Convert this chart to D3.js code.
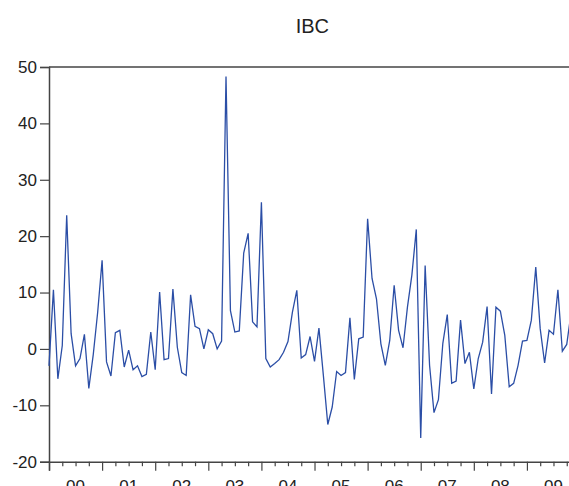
<!DOCTYPE html>
<html>
<head>
<meta charset="utf-8">
<script src="https://cdn.jsdelivr.net/npm/d3@7"></script>
<style>
  body { margin: 0; background: #fff; overflow: hidden; }
  svg { display: block; }
  text { font-family: "Liberation Sans", Arial, sans-serif; fill: #222; }
</style>
</head>
<body>
<div id="chart"></div>
<script>
// monthly series, Jan 2000 onwards
var ibc = [
  -3.0, 10.5, -5.3, 0.6, 23.7, 2.7, -3.0, -1.7, 2.6, -7.0, -1.0, 6.5,
  15.7, -2.3, -4.8, 2.9, 3.3, -3.2, -0.2, -3.7, -3.0, -4.9, -4.5, 3.0,
  -3.7, 10.1, -1.9, -1.7, 10.6, 0.3, -4.2, -4.7, 9.6, 4.0, 3.6, 0.0,
  3.4, 2.7, 0.0, 1.4, 48.3, 6.8, 3.0, 3.2, 17.0, 20.5, 4.8, 3.9,
  26.0, -1.7, -3.2, -2.6, -1.9, -0.6, 1.3, 6.5, 10.4, -1.6, -1.0, 2.2,
  -2.2, 3.7, -4.7, -13.4, -10.3, -4.0, -4.7, -4.2, 5.5, -5.4, 1.8, 2.1,
  23.1, 12.5, 8.9, 0.9, -2.9, 1.5, 11.3, 3.3, 0.2, 7.4, 13.1, 21.2,
  -15.8, 14.8, -2.9, -11.3, -9.0, 1.0, 6.1, -6.1, -5.7, 5.1, -2.6, -0.6,
  -7.1, -1.7, 1.2, 7.5, -8.0, 7.4, 6.7, 2.4, -6.7, -6.1, -2.9, 1.4,
  1.5, 5.1, 14.5, 3.6, -2.5, 3.3, 2.6, 10.5, -0.4, 0.8, 6.5
];
var yearLabels = ["00", "01", "02", "03", "04", "05", "06", "07", "08", "09"];
var yTicks = [-20, -10, 0, 10, 20, 30, 40, 50];

var svgWidth = 569;
var svgHeight = 486;

var margin = { top: 67, left: 49 };
var plotRight = 575.6;
var plotBottom = 461.7;

var svg = d3.select("#chart")
  .append("svg")
  .attr("width", svgWidth)
  .attr("height", svgHeight);

var x = d3.scaleLinear().domain([0, 119]).range([margin.left, plotRight]);
var y = d3.scaleLinear().domain([-20, 50]).range([plotBottom, margin.top]);

// title
svg.append("text")
  .attr("x", (margin.left + plotRight) / 2)
  .attr("y", 33)
  .attr("text-anchor", "middle")
  .style("font-size", "20px")
  .text("IBC");

// frame: top border
svg.append("line")
  .attr("x1", margin.left).attr("x2", plotRight)
  .attr("y1", margin.top).attr("y2", margin.top)
  .attr("stroke", "#444").attr("stroke-width", 1.5);

// y axis (plain hyphen for negatives, like the original)
var yAxis = d3.axisLeft(y).tickValues(yTicks).tickSize(9).tickPadding(3)
  .tickFormat(d => String(d));
var gy = svg.append("g")
  .attr("transform", `translate(${margin.left},0)`)
  .call(yAxis);
gy.select(".domain").attr("stroke", "#444").attr("stroke-width", 1.5);
gy.selectAll(".tick line").attr("stroke", "#444").attr("stroke-width", 1.2);
gy.selectAll(".tick text")
  .style("font-size", "17px")
  .style("font-family", "Liberation Sans, Arial, sans-serif")
  .attr("fill", "#222");

// x axis: major ticks at each January, minor ticks each quarter
var majorTicks = d3.range(0, 121, 12);
var minorTicks = d3.range(0, 121, 3).filter(d => d % 12 !== 0);

var xAxis = d3.axisBottom(x).tickValues(majorTicks).tickSize(9).tickFormat("");
var gx = svg.append("g")
  .attr("transform", `translate(0,${plotBottom})`)
  .call(xAxis);
gx.select(".domain").attr("stroke", "#444").attr("stroke-width", 1.5);
gx.selectAll(".tick line").attr("stroke", "#444").attr("stroke-width", 1.2);

var xMinor = d3.axisBottom(x).tickValues(minorTicks).tickSize(4.5).tickFormat("");
var gxm = svg.append("g")
  .attr("transform", `translate(0,${plotBottom})`)
  .call(xMinor);
gxm.select(".domain").remove();
gxm.selectAll(".tick line").attr("stroke", "#444").attr("stroke-width", 1.2);

// year labels centred on each year (cut by the bottom edge, as in the original)
svg.append("g").selectAll("text")
  .data(yearLabels)
  .enter()
  .append("text")
  .attr("x", (d, i) => x(i * 12 + 6))
  .attr("y", plotBottom + 30)
  .attr("text-anchor", "middle")
  .style("font-size", "17px")
  .text(d => d);

// series line
var line = d3.line()
  .x((d, i) => x(i))
  .y(d => y(d));

svg.append("path")
  .datum(ibc)
  .attr("fill", "none")
  .attr("stroke", "#2b4ea6")
  .attr("stroke-width", 1.3)
  .attr("d", line);
</script>
</body>
</html>
